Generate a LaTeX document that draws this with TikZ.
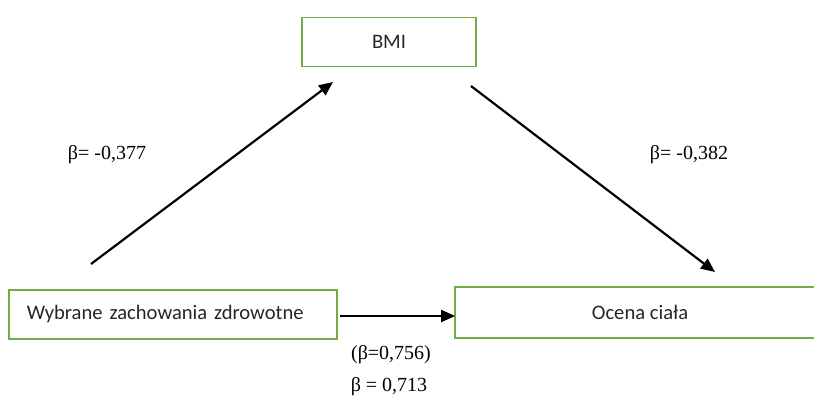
\documentclass[tikz,border=0pt]{standalone}
\usepackage{fontspec}
\setmainfont{Liberation Serif}
\newfontfamily\boxfont{Carlito}
\usepackage{tikz}
\usetikzlibrary{arrows.meta, positioning}

\definecolor{boxgreen}{RGB}{112,173,71}
\definecolor{boxtext}{RGB}{38,38,38}

\begin{document}
\begin{tikzpicture}[
x=1pt, y=-1pt,
font=\fontsize{20}{24}\selectfont,
varbox/.style={rectangle, draw=boxgreen, line width=1.8pt, text=boxtext, font=\boxfont\fontsize{20.6}{24}\selectfont, minimum height=49pt, inner sep=0pt},
boxline/.style={draw=boxgreen, line width=1.8pt},
arrow/.style={line width=2.2pt, -{Triangle[length=14pt, width=12pt]}},
coef/.style={inner sep=0pt}
]
\useasboundingbox (0,0) rectangle (814,402);

\node[varbox, minimum width=174pt] (bmi) at (389,42) {BMI};
\node[varbox, text width=292pt, align=left, inner xsep=18pt] (behav) at (173,314.5) {Wybrane zachowania zdrowotne};
\node[varbox, draw=none, minimum width=368pt] (body) at (640,312.5) {Ocena ciała};
\draw[boxline] (body.north east) -- (body.north west) -- (body.south west) -- (body.south east);

\coordinate (p1) at (91,264);
\coordinate (p2) at (333,82);
\coordinate (p3) at (471,86);
\coordinate (p4) at (715,272);
\coordinate (p5) at (340,316);

\draw[arrow] (p1) -- (p2);
\draw[arrow] (p3) -- (p4);
\draw[arrow] (p5) -- (p5 -| body.west);

\node[coef] (b1) at (107,155) {β= -0,377};
\node[coef] (b2) at (689,155) {β= -0,382};
\node[coef] (b3) at (391,355) {(β=0,756)};
\node[coef] (b4) at (389,387) {β = 0,713};

\end{tikzpicture}
\end{document}
